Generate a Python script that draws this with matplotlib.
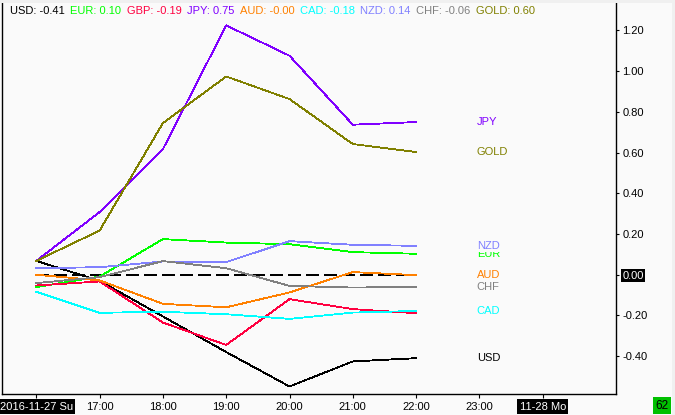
import matplotlib
matplotlib.use('Agg')
import matplotlib.pyplot as plt
from matplotlib.patches import Rectangle

plt.rcParams['font.family'] = ['Liberation Sans', 'DejaVu Sans']
plt.rcParams['font.size'] = 8

# hourly points, 2016-11-27 16:00 .. 22:00
hours = [16, 17, 18, 19, 20, 21, 22]
names = ['USD', 'EUR', 'GBP', 'JPY', 'AUD', 'CAD', 'NZD', 'CHF', 'GOLD']
colors = ['#000000', '#00ff00', '#ff0040', '#8000ff', '#ff8000',
          '#00ffff', '#8080ff', '#808080', '#808000']

usd = [0.068, -0.03, -0.205, -0.38, -0.549, -0.426, -0.41]
eur = [-0.061, -0.009, 0.175, 0.158, 0.15, 0.111, 0.103]
gbp = [-0.053, -0.033, -0.235, -0.345, -0.12, -0.169, -0.189]
jpy = [0.068, 0.308, 0.617, 1.225, 1.076, 0.737, 0.75]
aud = [0.0, -0.028, -0.143, -0.16, -0.087, 0.013, -0.002]
cad = [-0.084, -0.187, -0.182, -0.194, -0.217, -0.186, -0.178]
nzd = [0.032, 0.037, 0.065, 0.062, 0.165, 0.147, 0.142]
chf = [-0.041, -0.012, 0.067, 0.032, -0.055, -0.063, -0.06]
gold = [0.068, 0.217, 0.745, 0.974, 0.863, 0.642, 0.603]
series = [usd, eur, gbp, jpy, aud, cad, nzd, chf, gold]

xtick_pos = [16, 17, 18, 19, 20, 21, 22, 23, 24]
xtick_labels = ['2016-11-27 Su', '17:00', '18:00', '19:00', '20:00',
                '21:00', '22:00', '23:00', '11-28 Mo']
ytick_pos = [-0.4, -0.2, 0.0, 0.2, 0.4, 0.6, 0.8, 1.0, 1.2]
corner_label = '62'

W, H = 675, 415
bg = '#fafafa'
fig = plt.figure(figsize=(W / 100, H / 100), dpi=100, facecolor=bg)
# plot box: x 2..616 px, y 3..394 px from top
ax = fig.add_axes([2 / W, 21 / H, 614 / W, 391 / H])
ax.set_facecolor(bg)

for vals, c in zip(series, colors):
    ax.plot(hours, vals, color=c, lw=0.6, antialiased=False, zorder=3)

ax.plot([hours[0], hours[-1]], [0, 0], color='black', lw=1.4,
        dashes=(6.5, 3), antialiased=False, zorder=2)

ax.set_xlim(15.458, 25.158)
ax.set_ylim(-0.586, 1.335)

ax.spines['top'].set_visible(False)
for s in ['left', 'bottom', 'right']:
    ax.spines[s].set_linewidth(1.0)
    ax.spines[s].set_color('black')

ax.yaxis.tick_right()
ax.set_yticks(ytick_pos)
ax.set_yticklabels([f'{v:.2f}' for v in ytick_pos])
ax.tick_params(axis='y', direction='out', length=2.5, width=0.8, pad=2,
               labelsize=8)
ax.set_xticks(xtick_pos)
ax.set_xticklabels(xtick_labels)
ax.tick_params(axis='x', direction='out', length=3, width=0.8, pad=2.5,
               labelsize=8)

for lab in ax.get_xticklabels():
    if lab.get_text() in (xtick_labels[0], xtick_labels[-1]):
        lab.set_color('white')
        lab.set_bbox(dict(facecolor='black', edgecolor='none',
                          boxstyle='square,pad=0.2'))
for lab in ax.get_yticklabels():
    if lab.get_text() == '0.00':
        lab.set_color('white')
        lab.set_bbox(dict(facecolor='black', edgecolor='none',
                          boxstyle='square,pad=0.15'))

# right-side name labels at last value (later ones cover earlier ones)
for i, (n, vals, c) in enumerate(zip(names, series, colors)):
    ax.text(22.96, vals[-1], n, color=c, fontsize=8, ha='left',
            va='center', zorder=10 + i,
            bbox=dict(facecolor=bg, edgecolor='none',
                      boxstyle='square,pad=0.12'))

# top value legend
renderer = fig.canvas.get_renderer()
x = 10
for n, vals, c in zip(names, series, colors):
    t = fig.text(x / W, 1 - 11.5 / H, f'{n}: {vals[-1]:.2f}', color=c,
                 fontsize=8, ha='left', va='center')
    bb = t.get_window_extent(renderer)
    x = bb.x1 + 5.5

fig.text(662 / W, 9.5 / H, corner_label, fontsize=8.5, ha='center',
         va='center', color='black',
         bbox=dict(facecolor='#00c000', edgecolor='none',
                   boxstyle='square,pad=0.2'))

fig.patches.append(Rectangle((0, 1 - 3 / H), 1, 3 / H, transform=fig.transFigure,
                             facecolor='#f0f0f0', edgecolor='none'))
fig.patches.append(Rectangle((1 - 3 / W, 0), 3 / W, 1, transform=fig.transFigure,
                             facecolor='#f0f0f0', edgecolor='none'))

fig.savefig('out.png', dpi=100, facecolor=bg)
